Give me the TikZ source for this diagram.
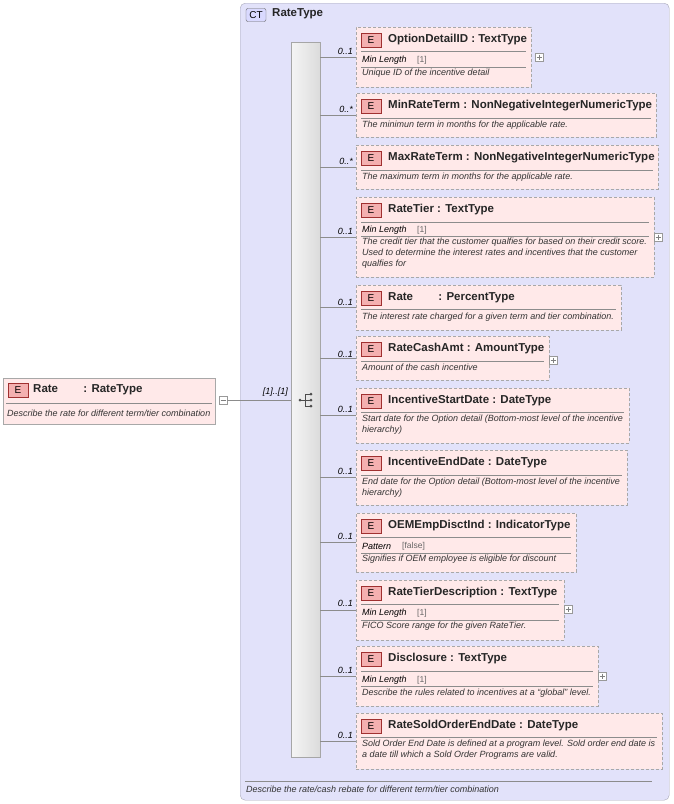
\documentclass[tikz,border=0pt]{standalone}
\usepackage{fontspec}
\setmainfont{Liberation Sans}
\usetikzlibrary{calc}
\definecolor{ctfill}{HTML}{E2E2FA}
\definecolor{ctline}{HTML}{A8A8B8}
\definecolor{efill}{HTML}{FFE9E9}
\definecolor{bline}{HTML}{A8A8A8}
\definecolor{badge}{HTML}{F4B0B0}
\definecolor{badgeline}{HTML}{A03030}
\tikzset{
 box/.style={draw=bline, dashed, dash pattern=on 3pt off 2pt, fill=efill, anchor=north west, inner sep=0},
 sbox/.style={draw=bline, fill=efill, anchor=north west, inner sep=0},
 ebadge/.style={draw=badgeline, fill=badge, minimum width=20pt, minimum height=14pt, inner sep=0, font=\fontsize{10}{11}\selectfont},
 ttl/.style={anchor=west, font=\bfseries\fontsize{11.5}{13}\selectfont, text=black!85, inner sep=0},
 dsc/.style={anchor=north west, font=\itshape\fontsize{9}{11}\selectfont, text=black!80, inner sep=0, align=left},
 fct/.style={anchor=west, font=\itshape\fontsize{9}{10}\selectfont, inner sep=0},
 fv/.style={anchor=west, font=\fontsize{8.5}{10}\selectfont, text=black!60, inner sep=0},
 card/.style={anchor=south east, font=\itshape\fontsize{9}{10}\selectfont, inner sep=1pt},
 sepl/.style={draw=black!45, line width=0.5pt},
 conn/.style={draw=black!45, line width=0.5pt},
 pbox/.style={draw=black!40, fill=white, minimum size=8pt, inner sep=0},
}
\newcommand\elem[7]{% name top height width label title conny
 \node[box, minimum width=#4pt, minimum height=#3pt] (#1) at (356,#2) {};
 \node[ebadge] (#1b) at (371,{#2+13}) {E};
 \node[ttl] (#1t) at (388,{#2+13}) {#6};
 \draw[conn] (seq.east |- #1.west) -- (#1.west);
 \node[card] (#1c) at (354,{#7-1}) {#5};
}
\newcommand\sepl[3]{\draw[sepl] (361,#3) -- (#2,#3);}
\newcommand\plusbox[3]{\node[pbox] (#1) at (#2,#3) {}; \draw[black!50,line width=0.4pt] (#2-2.5,#3) -- (#2+2.5,#3) (#2,#3-2.5) -- (#2,#3+2.5);}
\begin{document}
\begin{tikzpicture}[x=1pt,y=-1pt]
\useasboundingbox (0,0) rectangle (674,804);
\fill[white] (0,0) rectangle (674,804);
\node[draw=ctline, fill=ctfill, rounded corners=5pt, anchor=north west, minimum width=429pt, minimum height=797pt, inner sep=0] (ct) at (240,3) {};
\node[draw=black!60, fill=blue!15, rounded corners=2pt, minimum width=20pt, minimum height=13pt, inner sep=0, font=\fontsize{10}{11}\selectfont] (ctb) at (256,15) {CT};
\node[ttl] (ctt) at (272,14) {RateType};
\draw[sepl] (245,781) -- (652,781);
\node[dsc, anchor=west] (ctd) at (246,789) {Describe the rate/cash rebate for different term/tier combination};
% sequence
\node[draw=black!35, left color=black!4, right color=black!14, anchor=north west, minimum width=29pt, minimum height=715pt, inner sep=0] (seq) at (291,42) {};
\begin{scope}[black!70]
\fill (300,400) circle (1.5);
\draw[line width=0.7pt] (300,400) -- (305,400) (305,394) -- (305,406) (305,394) -- (310,394) (305,400)--(310,400) (305,406)--(310,406);
\fill (311,394) circle (1.5) (311,400) circle (1.5) (311,406) circle (1.5);
\end{scope}
% left element
\node[sbox, minimum width=212pt, minimum height=46pt] (rate) at (3,378) {};
\node[ebadge] (rateb) at (18,390) {E};
\node[ttl] (ratet) at (33,390) {Rate\hspace{2.2em}: RateType};
\draw[sepl] (6,403) -- (212,403);
\node[dsc, anchor=west] (rated) at (7,413) {Describe the rate for different term/tier combination};
\node[pbox] (ratem) at (223,400) {};
\draw[black!50,line width=0.4pt] (220.5,400) -- (225.5,400);
\draw[conn] (ratem.east) -- (seq.west |- ratem.east);
\node[card] (ratec) at (289,398) {[1]..[1]};
% children
\elem{a}{27}{60}{175}{0..1}{OptionDetailID : TextType}{57}
\sepl{}{526}{51}\node[fct] at (362,60) {Min Length}; \node[fv] at (417,60) {[1]}; \sepl{}{526}{67}
\node[dsc] at (362,69) {Unique ID of the incentive detail};
\plusbox{ap}{539}{57}
\elem{b}{93}{44}{300}{0..*}{MinRateTerm : NonNegativeIntegerNumericType}{115}
\sepl{}{651}{118}\node[dsc] at (362,121) {The minimun term in months for the applicable rate.};
\elem{c}{145}{44}{302}{0..*}{MaxRateTerm : NonNegativeIntegerNumericType}{167}
\sepl{}{653}{170}\node[dsc] at (362,173) {The maximum term in months for the applicable rate.};
\elem{d}{197}{80}{298}{0..1}{RateTier : TextType}{237}
\sepl{}{649}{222}\node[fct] at (362,230) {Min Length}; \node[fv] at (417,230) {[1]}; \sepl{}{649}{236}
\node[dsc] at (362,238) {The credit tier that the customer qualfies for based on their credit score.\\Used to determine the interest rates and incentives that the customer\\qualfies for};
\plusbox{dp}{658}{237}
\elem{e}{285}{45}{265}{0..1}{Rate\hspace{2.2em}: PercentType}{308}
\sepl{}{616}{309}\node[dsc] at (362,313) {The interest rate charged for a given term and tier combination.};
\elem{f}{336}{44}{193}{0..1}{RateCashAmt : AmountType}{360}
\sepl{}{544}{361}\node[dsc] at (362,364) {Amount of the cash incentive};
\plusbox{fp}{553}{360}
\elem{g}{388}{55}{273}{0..1}{IncentiveStartDate : DateType}{415}
\sepl{}{624}{412}\node[dsc] at (362,415) {Start date for the Option detail (Bottom-most level of the incentive\\hierarchy)};
\elem{h}{450}{55}{271}{0..1}{IncentiveEndDate : DateType}{477}
\sepl{}{622}{475}\node[dsc] at (362,478) {End date for the Option detail (Bottom-most level of the incentive\\hierarchy)};
\elem{i}{513}{59}{220}{0..1}{OEMEmpDisctInd : IndicatorType}{542}
\sepl{}{571}{537}\node[fct] at (362,546) {Pattern}; \node[fv] at (402,546) {[false]}; \sepl{}{571}{553}
\node[dsc] at (362,555) {Signifies if OEM employee is eligible for discount};
\elem{j}{580}{60}{208}{0..1}{RateTierDescription : TextType}{609}
\sepl{}{559}{604}\node[fct] at (362,613) {Min Length}; \node[fv] at (417,613) {[1]}; \sepl{}{559}{620}
\node[dsc] at (362,622) {FICO Score range for the given RateTier.};
\plusbox{jp}{568}{609}
\elem{k}{646}{60}{242}{0..1}{Disclosure : TextType}{676}
\sepl{}{593}{671}\node[fct] at (362,680) {Min Length}; \node[fv] at (417,680) {[1]}; \sepl{}{593}{686}
\node[dsc] at (362,689) {Describe the rules related to incentives at a ``global'' level.};
\plusbox{kp}{602}{676}
\elem{l}{713}{56}{306}{0..1}{RateSoldOrderEndDate : DateType}{741}
\sepl{}{657}{737}\node[dsc] at (362,740) {Sold Order End Date is defined at a program level. Sold order end date is\\a date till which a Sold Order Programs are valid.};
\end{tikzpicture}
\end{document}
